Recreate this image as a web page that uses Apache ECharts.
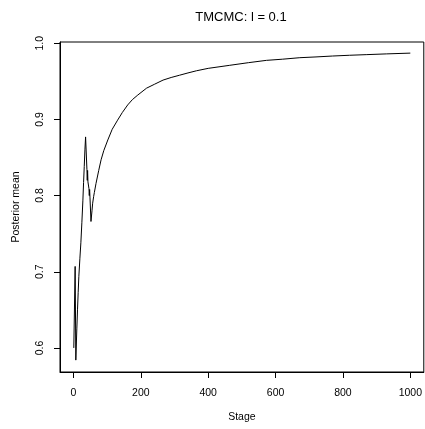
<!DOCTYPE html>
<html><head><meta charset="utf-8">
<script src="https://cdn.jsdelivr.net/npm/echarts@6/dist/echarts.min.js"></script>
<style>html,body{margin:0;padding:0;background:#fff}#c{width:425px;height:429px}</style>
</head><body><div id="c"></div>
<script>
const titleText = 'TMCMC: l = 0.1';
const xName = 'Stage';
const yName = 'Posterior mean';
const stages = [1,5,7,10,12,14,16,19,22,25,28,30,32,34,36,40,41,42,43,46,47,48,49,52,55,57,60,62,67,75,82,90,102,115,131,145,161,175,191,217,240,266,290,315,340,365,400,464,520,573,620,672,720,769,820,869,930,1000];
const posteriorMean = [0.600,0.707,0.584,0.625,0.650,0.673,0.694,0.717,0.738,0.765,0.794,0.817,0.838,0.860,0.877,0.834,0.820,0.833,0.818,0.809,0.800,0.808,0.798,0.766,0.780,0.790,0.799,0.804,0.816,0.833,0.847,0.859,0.873,0.887,0.899,0.909,0.919,0.926,0.932,0.941,0.946,0.9516,0.955,0.958,0.961,0.9638,0.967,0.971,0.9745,0.9775,0.979,0.981,0.982,0.9832,0.9842,0.985,0.986,0.987];
const xTicks = [0,200,400,600,800,1000];
const yTicks = [0.6,0.7,0.8,0.9,1.0];

const chart = echarts.init(document.getElementById('c'), null, {renderer:'canvas'});
const font = 'Liberation Sans, Arial, Helvetica, sans-serif';
const seriesData = stages.map((s,i)=>[s, posteriorMean[i]]);
chart.setOption({
  animation:false,
  backgroundColor:'#fff',
  title:{text:titleText, left:236, top:6, textAlign:'center',
    textStyle:{fontFamily:font, fontSize:13, fontWeight:'normal', color:'#000'}},
  grid:{left:60, right:1, top:42, bottom:57, show:true, borderColor:'#000', borderWidth:1, containLabel:false},
  xAxis:{type:'value', min:-39.96, max:1039.96,
    name:xName, nameLocation:'middle', nameGap:40,
    nameTextStyle:{fontFamily:font, fontSize:10.5, color:'#000'},
    splitLine:{show:false},
    axisLine:{show:true, onZero:false, lineStyle:{color:'#000', width:1}},
    axisTick:{show:true, length:6, inside:false, customValues:xTicks, lineStyle:{color:'#000'}},
    axisLabel:{customValues:xTicks, margin:16, fontFamily:font, fontSize:10.5, color:'#000',
      formatter:v=>String(v)}},
  yAxis:{type:'value', min:0.5684, max:1.0016,
    name:yName, nameLocation:'middle', nameGap:38, nameRotate:90,
    nameTextStyle:{fontFamily:font, fontSize:10.5, color:'#000'},
    splitLine:{show:false},
    axisLine:{show:true, onZero:false, lineStyle:{color:'#000', width:1}},
    axisTick:{show:true, length:6, inside:false, customValues:yTicks, lineStyle:{color:'#000'}},
    axisLabel:{customValues:yTicks, rotate:90, margin:14, fontFamily:font, fontSize:10.5, color:'#000',
      formatter:v=>v.toFixed(1)}},
  series:[{type:'line', data:seriesData, showSymbol:false, symbol:'none',
    lineStyle:{color:'#000', width:1}, smooth:false}]
});
</script></body></html>
